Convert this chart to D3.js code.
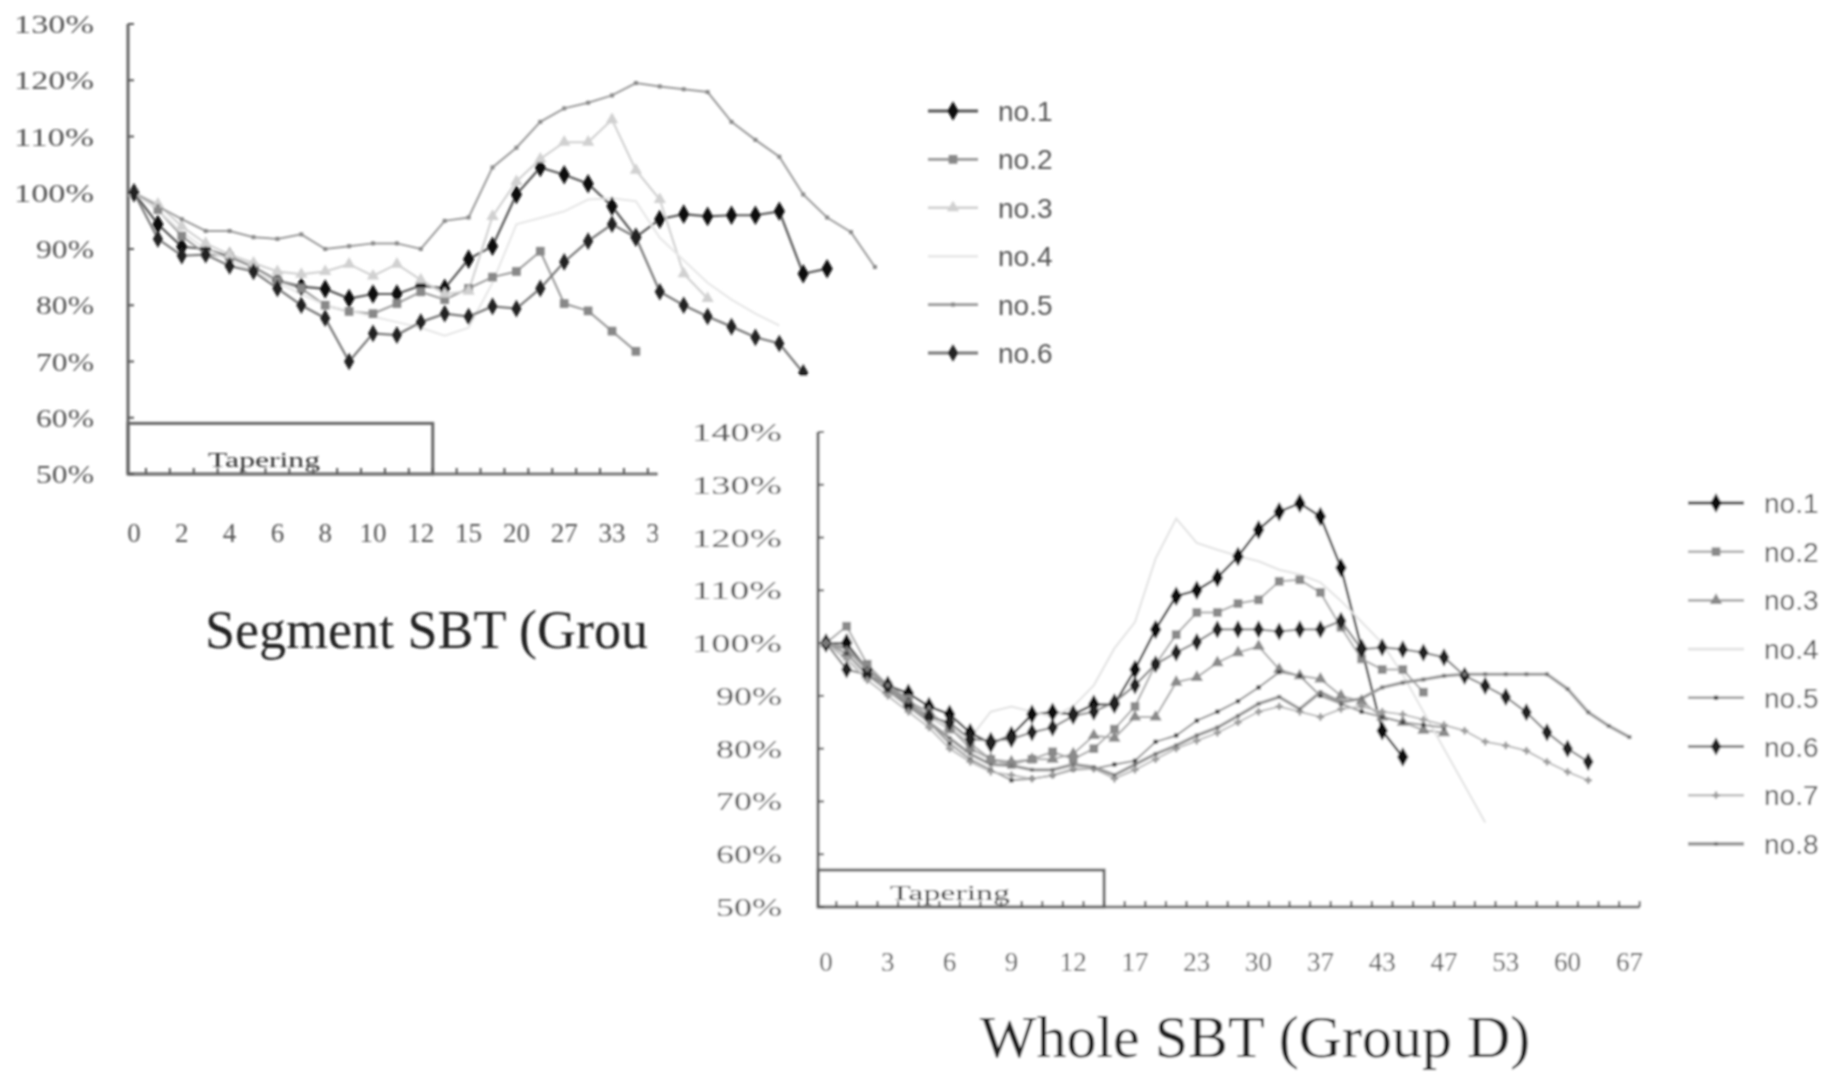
<!DOCTYPE html>
<html><head><meta charset="utf-8">
<script src="https://cdn.jsdelivr.net/npm/d3@7"></script>
<style>body{margin:0;background:#fff;}svg{display:block;}</style>
</head><body>
<svg id="chart" width="1835" height="1075"></svg>
<script>
// ---------- DATA: Segment SBT ----------
const segCategories = [0,1,2,3,4,5,6,7,8,9,10,11,12,13,15,17,20,23,27,30,33,36,39,42,45,48,51,54,57,60,63,66];
const segLabelStep = 2;
const segYTicks = [50,60,70,80,90,100,110,120,130];
const segNames = ["no.1","no.2","no.3","no.4","no.5","no.6"];
const segNo1 = [100,94.4,90.4,90,88.6,86.8,84.4,83.3,82.9,81.2,82,82,83.5,83,88.2,90.5,99.7,104.5,103.2,101.6,97.6,92.1,95.3,96.2,95.8,96,96,96.7,85.6,86.5];
const segNo2 = [100,97,92.3,89.1,88.6,86.8,84.4,83,80,78.9,78.5,80.3,82.4,81,83,85,86,89.6,80.3,79,75.4,71.8];
const segNo3 = [100,98,94,91,89,87.5,86,85.5,86,87.3,85.2,87.3,84.5,82,82.5,95.8,102,106,109,109,113,104,98.8,85.6,81.2];
const segNo4 = [100,97,93,90,88,86,84,82,80,79,78,77,76,74.6,76,84,94.4,95.5,96.7,98.8,99,98.5,92,88,84,81,78.5,76.4];
const segNo5 = [100,97.6,95.3,93.2,93.2,92.1,91.8,92.6,90,90.5,91,91,90,95,95.6,104.5,108,112.6,115,116,117.3,119.5,118.9,118.4,117.9,112.6,109.4,106.4,99.7,95.6,93,86.8];
const segNo6 = [100,91.8,88.8,89,87,86,83,80,77.7,70,75,74.7,77,78.5,78,79.8,79.4,83,87.7,91.4,94.4,92.1,82.4,80,78,76.2,74.3,73.2,68,64];

// ---------- DATA: Whole SBT ----------
const wholeCategories = [0,1,2,3,4,5,6,7,8,9,10,11,12,14,15,17,19,21,23,26,28,30,32,35,37,39,41,43,44,46,47,49,51,53,55,58,60,62,65,67];
const wholeLabelStep = 3;
const wholeYTicks = [50,60,70,80,90,100,110,120,130,140];
const wholeNames = ["no.1","no.2","no.3","no.4","no.5","no.6","no.7","no.8"];
const wholeNo1 = [100,100,95,92,90.5,88,86.5,83,81,82.5,86.5,86.9,86.5,88.4,88.4,95,102.6,108.9,110,112.4,116.4,121.5,124.9,126.5,124,114.3,99,83.4,78.4];
const wholeNo2 = [100,103.2,96,92,89.4,86,83.7,81,78,77,78,79.4,78,80,83.7,88,96,101.6,105.8,105.8,107.5,108.2,111.7,112,109.6,103,97,95,95,90.7];
const wholeNo3 = [100,98,94,91,89,87,84,80,78,77.5,78,78,79,82.5,82,86,86,92.6,93.5,96.3,98.2,99.4,95,93.8,93.2,90,89,86,85,83.5,83];
const wholeNo4 = [100,97,94,91,88,86,84,82,87,88,87,86,88,92,99,104,116,123.6,119,117.7,116.5,115.5,113.9,113,111.5,108,104,100,94,87,80,73,66];
const wholeNo5 = [100,98,94,91,88,85,81,78,76,74,74.3,74.9,76,76.2,77,77.7,81.3,82.5,85.3,87,89,91.6,94.5,93.8,90,88.5,87,86,85,84.5,84];
const wholeNo6 = [100,95,94,91.9,88.1,86,85,81.8,81.5,81.8,83.1,84,86.2,87,88.8,92,96,98.2,100.2,102.6,102.6,102.6,102.2,102.6,102.6,104.2,98.8,99.2,98.8,98.2,97.3,93.8,91.9,89.8,86.9,83.1,80,77.5];
const wholeNo7 = [100,97,93,90,87,84,80,77.5,75.6,75,74.3,75,76.2,76.2,74.3,76,78,80,81.5,83,85,87,88,87,86,87.5,88,87,86.5,85.5,84.5,83.4,81.3,80.6,79.6,77.5,75.6,74];
const wholeNo8 = [100,99,95,92,89,85,82,79,77,76.8,76,76,77,76.5,75,77,79,80.6,82.5,84,86.2,88.5,89.8,87.5,90.7,88.8,89.5,91.6,92.5,93.1,93.8,94.1,94.1,94.1,94.1,94.1,91.3,86.9,84.3,82.2];

// ---------- STYLES ----------
const segStyles = [
  {line:"#555", w:2.2, sym:d3.symbolDiamond, size:110, fill:"#111"},
  {line:"#999", w:2, sym:d3.symbolSquare, size:75, fill:"#888"},
  {line:"#cfcfcf", w:2, sym:d3.symbolTriangle, size:65, fill:"#d0d0d0"},
  {line:"#e6e6e6", w:2, sym:null},
  {line:"#9a9a9a", w:2, sym:d3.symbolSquare, size:16, fill:"#888"},
  {line:"#777", w:2.2, sym:d3.symbolDiamond, size:90, fill:"#222"}
];
const wholeStyles = [
  {line:"#444", w:2.4, sym:d3.symbolDiamond, size:110, fill:"#111"},
  {line:"#aaa", w:2, sym:d3.symbolSquare, size:75, fill:"#8a8a8a"},
  {line:"#aaa", w:2, sym:d3.symbolTriangle, size:65, fill:"#8a8a8a"},
  {line:"#e2e2e2", w:2, sym:null},
  {line:"#999", w:2, sym:d3.symbolSquare, size:18, fill:"#444"},
  {line:"#888", w:2.2, sym:d3.symbolDiamond, size:95, fill:"#222"},
  {line:"#bdbdbd", w:2, sym:d3.symbolCross, size:30, fill:"#999"},
  {line:"#9a9a9a", w:3.2, sym:d3.symbolSquare, size:16, fill:"#777"}
];

const svg = d3.select("#chart");
const defs = svg.append("defs");
defs.append("filter").attr("id","soft").append("feGaussianBlur").attr("stdDeviation",0.9);
defs.append("clipPath").attr("id","leftclip").append("rect").attr("x",0).attr("y",0).attr("width",658).attr("height",1075);
const root = svg.append("g").attr("filter","url(#soft)");

function drawPanel(g, cfg){
  const n = cfg.categories.length;
  const x = d3.scalePoint().domain(d3.range(n)).range([cfg.x0, cfg.x0 + cfg.step*(n-1)]);
  const y = d3.scaleLinear().domain([cfg.yTicks[0], cfg.yTicks[cfg.yTicks.length-1]]).range([cfg.yBottom, cfg.yTop]);
  const axisX = cfg.axisX;
  const clipG = cfg.clip ? g.append("g").attr("clip-path","url(#"+cfg.clip+")") : g;
  // tapering box
  const bx1 = x(cfg.boxEnd) + cfg.step/2;
  g.append("rect").attr("x",axisX).attr("y",y(cfg.boxTop)).attr("width",bx1-axisX).attr("height",cfg.yBottom-y(cfg.boxTop))
    .attr("fill","none").attr("stroke","#666").attr("stroke-width",3);
  g.append("text").attr("x",cfg.boxTextX).attr("y",cfg.yBottom-7).attr("text-anchor","middle")
    .attr("font-family","Liberation Serif").attr("font-size",20).attr("fill","#333")
    .attr("textLength",cfg.boxTextW).attr("lengthAdjust","spacingAndGlyphs").text("Tapering");
  // axes
  g.append("line").attr("x1",axisX).attr("x2",axisX).attr("y1",cfg.yTop).attr("y2",cfg.yBottom).attr("stroke","#666").attr("stroke-width",3);
  g.append("line").attr("x1",axisX).attr("x2",x(n-1)+cfg.step/2).attr("y1",cfg.yBottom).attr("y2",cfg.yBottom).attr("stroke","#777").attr("stroke-width",3);
  cfg.yTicks.forEach(t=>{
    g.append("line").attr("x1",axisX).attr("x2",axisX+6).attr("y1",y(t)).attr("y2",y(t)).attr("stroke","#555").attr("stroke-width",2);
    g.append("text").attr("x",cfg.yLabelX).attr("y",y(t)).attr("dy","0.36em").attr("text-anchor","end")
      .attr("font-family","Liberation Serif").attr("font-size",25).attr("fill","#555")
      .attr("textLength", String(t).length===3 ? cfg.lw4 : cfg.lw3).attr("lengthAdjust","spacingAndGlyphs")
      .text(t+"%");
  });
  d3.range(n).forEach(i=>{
    const xx = x(i)+cfg.step/2;
    g.append("line").attr("x1",xx).attr("x2",xx).attr("y1",cfg.yBottom).attr("y2",cfg.yBottom-6).attr("stroke","#555").attr("stroke-width",2);
    if(i % cfg.labelStep===0 && x(i) - 10 < cfg.labelMaxX){
      clipG.append("text").attr("x",x(i)).attr("y",cfg.xLabelY).attr("text-anchor","middle")
        .attr("font-family","Liberation Serif").attr("font-size",27).attr("fill","#555")
        .text(cfg.categories[i]);
    }
  });
  // series
  const line = d3.line().x((d,i)=>x(i)).y(d=>y(d));
  cfg.series.forEach((vals,k)=>{
    const st = cfg.styles[k];
    g.append("path").datum(vals).attr("d",line).attr("fill","none").attr("stroke",st.line).attr("stroke-width",st.w);
  });
  cfg.series.forEach((vals,k)=>{
    const st = cfg.styles[k];
    if(!st.sym) return;
    const sym = d3.symbol().type(st.sym).size(st.size);
    g.selectAll(null).data(vals).enter().append("path")
      .attr("transform",(d,i)=>`translate(${x(i)},${y(d)})`).attr("d",sym).attr("fill",st.fill);
  });
  // legend
  cfg.names.forEach((nm,k)=>{
    const st = cfg.styles[k];
    const ly = cfg.legY + k*cfg.legStep;
    g.append("line").attr("x1",cfg.legX).attr("x2",cfg.legX+cfg.legW).attr("y1",ly).attr("y2",ly)
      .attr("stroke",st.line).attr("stroke-width",st.w+0.6);
    if(st.sym){
      g.append("path").attr("transform",`translate(${cfg.legX+cfg.legW/2},${ly})`)
        .attr("d",d3.symbol().type(st.sym).size(st.size)).attr("fill",st.fill);
    }
    g.append("text").attr("x",cfg.legX+cfg.legW+20).attr("y",ly).attr("dy","0.36em")
      .attr("font-family","Liberation Sans").attr("font-size",28).attr("fill","#555").text(nm);
  });
  // title
  clipG.append("text").attr("x",cfg.titleX).attr("y",cfg.titleY).attr("text-anchor",cfg.titleAnchor)
    .attr("font-family","Liberation Serif").attr("font-size",cfg.titleSize).attr("fill","#222").text(cfg.title);
}

const g1 = root.append("g");
drawPanel(g1, {
  categories: segCategories, labelStep: segLabelStep, yTicks: segYTicks, names: segNames,
  series: [segNo1,segNo2,segNo3,segNo4,segNo5,segNo6], styles: segStyles,
  x0: 134, step: 23.9, yTop: 24, yBottom: 474, axisX: 128, yLabelX: 94, lw4: 80, lw3: 58,
  xLabelY: 542, labelMaxX: 658, clip: "leftclip", boxEnd: 12, boxTop: 59, boxTextX: 264, boxTextW: 112,
  legX: 928, legW: 50, legY: 111, legStep: 48.4,
  title: "Segment SBT (Grou", titleX: 205, titleY: 648, titleAnchor: "start", titleSize: 54
});

// second panel drawn on top of the first, on its own white ground
const g2 = root.append("g");
g2.append("rect").attr("x",658).attr("y",376).attr("width",1835-658).attr("height",1075-376).attr("fill","#fff");
drawPanel(g2, {
  categories: wholeCategories, labelStep: wholeLabelStep, yTicks: wholeYTicks, names: wholeNames,
  series: [wholeNo1,wholeNo2,wholeNo3,wholeNo4,wholeNo5,wholeNo6,wholeNo7,wholeNo8], styles: wholeStyles,
  x0: 826, step: 20.6, yTop: 432, yBottom: 907, axisX: 818, yLabelX: 782, lw4: 90, lw3: 66,
  xLabelY: 971, labelMaxX: 9999, clip: null, boxEnd: 13, boxTop: 57, boxTextX: 950, boxTextW: 120,
  legX: 1688, legW: 56, legY: 503, legStep: 48.7,
  title: "Whole SBT (Group D)", titleX: 1255, titleY: 1057, titleAnchor: "middle", titleSize: 60
});
</script>
</body></html>
